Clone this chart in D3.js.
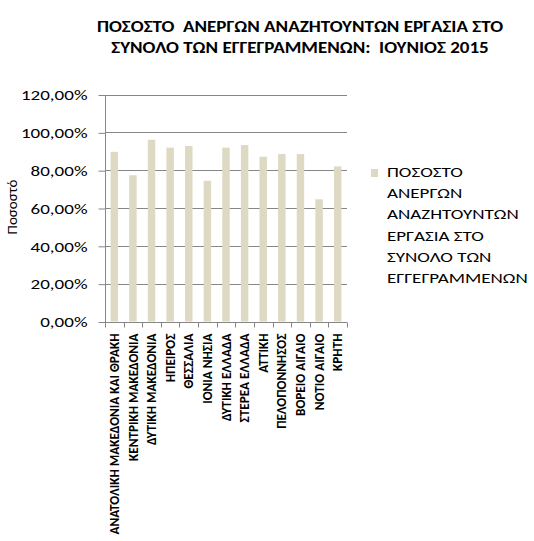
<!DOCTYPE html>
<html>
<head>
<meta charset="utf-8">
<script src="https://cdn.jsdelivr.net/npm/d3@7"></script>
<style>
  html, body { margin: 0; padding: 0; background: #fff; }
  svg { display: block; }
</style>
</head>
<body>
<svg id="chart" width="534" height="541"></svg>
<script>
const titleLines = ["ΠΟΣΟΣΤΟ  ΑΝΕΡΓΩΝ ΑΝΑΖΗΤΟΥΝΤΩΝ ΕΡΓΑΣΙΑ ΣΤΟ", "ΣΥΝΟΛΟ ΤΩΝ ΕΓΓΕΓΡΑΜΜΕΝΩΝ:  ΙΟΥΝΙΟΣ 2015"];
const categories = [
  "ΑΝΑΤΟΛΙΚΗ ΜΑΚΕΔΟΝΙΑ ΚΑΙ ΘΡΑΚΗ",
  "ΚΕΝΤΡΙΚΗ ΜΑΚΕΔΟΝΙΑ",
  "ΔΥΤΙΚΗ ΜΑΚΕΔΟΝΙΑ",
  "ΗΠΕΙΡΟΣ",
  "ΘΕΣΣΑΛΙΑ",
  "ΙΟΝΙΑ ΝΗΣΙΑ",
  "ΔΥΤΙΚΗ ΕΛΛΑΔΑ",
  "ΣΤΕΡΕΑ ΕΛΛΑΔΑ",
  "ΑΤΤΙΚΗ",
  "ΠΕΛΟΠΟΝΝΗΣΟΣ",
  "ΒΟΡΕΙΟ ΑΙΓΑΙΟ",
  "ΝΟΤΙΟ ΑΙΓΑΙΟ",
  "ΚΡΗΤΗ"
];
const values = [0.897, 0.773, 0.961, 0.919, 0.928, 0.744, 0.919, 0.933, 0.871, 0.885, 0.885, 0.646, 0.820];
const yTicks = [0, 0.2, 0.4, 0.6, 0.8, 1.0, 1.2];
const yAxisTitle = "Ποσοστό";
const legendLines = ["ΠΟΣΟΣΤΟ", "ΑΝΕΡΓΩΝ", "ΑΝΑΖΗΤΟΥΝΤΩΝ", "ΕΡΓΑΣΙΑ ΣΤΟ", "ΣΥΝΟΛΟ ΤΩΝ", "ΕΓΓΕΓΡΑΜΜΕΝΩΝ"];

const svg = d3.select("#chart");
const font = "Carlito, Calibri, 'Liberation Sans Narrow', 'Open Sans', sans-serif";
const barColor = "#ddd9c3";
const gridColor = "#868686";
const sx = 1.27; // horizontal glyph stretch seen in the reference

const plot = { left: 105, right: 347, top: 94.5, bottom: 321.5 };

const x = d3.scaleBand().domain(categories).range([plot.left, plot.right]).paddingInner(0.6).paddingOuter(0.3);
const xBand = d3.scaleBand().domain(categories).range([plot.left, plot.right]);
const y = d3.scaleLinear().domain([0, 1.2]).range([plot.bottom, plot.top]);

// Title
svg.append("g").selectAll("g").data(titleLines).join("g")
  .attr("transform", (d, i) => `translate(300,${32 + i * 21}) scale(${sx},1)`)
  .append("text")
  .attr("text-anchor", "middle")
  .attr("font-family", font).attr("font-weight", "bold").attr("font-size", 15)
  .attr("fill", "#000")
  .style("white-space", "pre")
  .text(d => d);

// Gridlines
svg.append("g").selectAll("line").data(yTicks.filter(t => t > 0)).join("line")
  .attr("x1", plot.left).attr("x2", plot.right)
  .attr("y1", d => Math.round(y(d)) + 0.5).attr("y2", d => Math.round(y(d)) + 0.5)
  .attr("stroke", gridColor).attr("stroke-width", 1);

// Bars
svg.append("g").selectAll("rect").data(values).join("rect")
  .attr("x", (d, i) => x(categories[i]))
  .attr("width", x.bandwidth())
  .attr("y", d => y(d))
  .attr("height", d => plot.bottom - y(d))
  .attr("fill", barColor);

// Y axis
const yAxis = d3.axisLeft(y).tickValues(yTicks).tickSize(7).tickPadding(11)
  .tickFormat(d => d3.format(".2f")(d * 100).replace(".", ",") + "%");
const gy = svg.append("g").attr("transform", `translate(${plot.left + 0.5},0.5)`).call(yAxis);
gy.select(".domain").attr("stroke", gridColor).attr("d", `M0,${plot.top}V${plot.bottom}`);
gy.selectAll(".tick line").attr("stroke", gridColor);
gy.selectAll(".tick text")
  .attr("font-family", font).attr("font-size", 15).attr("fill", "#000")
  .attr("x", -18 / sx)
  .attr("transform", `scale(${sx},1)`);

// X axis
const xAxis = d3.axisBottom(xBand).tickSize(0).tickPadding(0).tickFormat(d => d);
const gx = svg.append("g").attr("transform", `translate(0,${Math.round(plot.bottom) + 0.5})`).call(xAxis);
gx.select(".domain").attr("stroke", gridColor).attr("d", `M${plot.left},0H${plot.right}`);
gx.selectAll(".tick line").remove();
gx.append("g").selectAll("line").data(d3.range(categories.length + 1)).join("line")
  .attr("x1", i => Math.round(plot.left + i * xBand.step()) + 0.5)
  .attr("x2", i => Math.round(plot.left + i * xBand.step()) + 0.5)
  .attr("y1", 0).attr("y2", 5)
  .attr("stroke", gridColor);
gx.selectAll(".tick text")
  .attr("font-family", font).attr("font-size", 13.2).attr("font-weight", "bold").attr("fill", "#000")
  .attr("transform", "rotate(-90)")
  .attr("text-anchor", "end")
  .attr("x", -11).attr("y", 0).attr("dy", "0.35em");

// Y axis title
svg.append("text")
  .attr("transform", "translate(17,207) rotate(-90)")
  .attr("text-anchor", "middle")
  .attr("font-family", font).attr("font-size", 15).attr("fill", "#000")
  .text(yAxisTitle);

// Legend
const lg = svg.append("g");
lg.append("rect").attr("x", 371).attr("y", 169).attr("width", 7).attr("height", 8).attr("fill", barColor);
lg.selectAll("g").data(legendLines).join("g")
  .attr("transform", (d, i) => `translate(387,${177 + i * 21.2}) scale(${sx},1)`)
  .append("text")
  .attr("font-family", font).attr("font-size", 15).attr("fill", "#000")
  .text(d => d);
</script>
</body>
</html>
